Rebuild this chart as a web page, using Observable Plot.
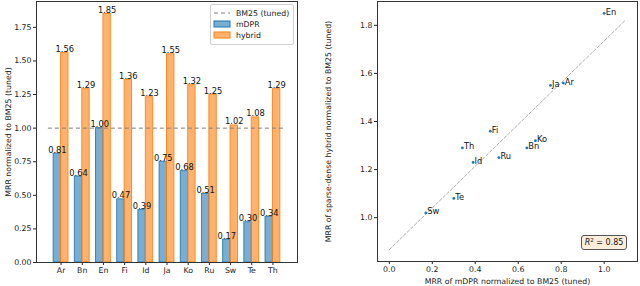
<!DOCTYPE html>
<html>
<head>
<meta charset="utf-8">
<script src="https://cdn.jsdelivr.net/npm/d3@7"></script>
<script src="https://cdn.jsdelivr.net/npm/@observablehq/plot@0.6"></script>
<style>
  html, body { margin: 0; padding: 0; background: white; }
  #wrap { position: relative; width: 640px; height: 286px; display: flex; font-family: "DejaVu Sans", sans-serif; }
  #wrap svg { display: block; }
  .legend { position: absolute; left: 210px; top: 4px; width: 82px; height: 39px; border: 1px solid #d0d0d0; border-radius: 2px; background: rgba(255,255,255,0.85); }
  .r2 { position: absolute; left: 581px; top: 235px; width: 44px; height: 13px; border: 1px solid #555; border-radius: 3px; background: #fdeedb; font-size: 8px; line-height: 13px; text-align: center; color: #111; white-space: nowrap; }
  .r2 sup { font-size: 5.5px; line-height: 0; vertical-align: 3.5px; }
</style>
</head>
<body>
<div id="wrap"></div>
<script>
// ---- data ----
const langs = ["Ar", "Bn", "En", "Fi", "Id", "Ja", "Ko", "Ru", "Sw", "Te", "Th"];
const mdpr = [0.81, 0.64, 1.00, 0.47, 0.39, 0.75, 0.68, 0.51, 0.17, 0.30, 0.34];
const hybrid = [1.56, 1.29, 1.85, 1.36, 1.23, 1.55, 1.32, 1.25, 1.02, 1.08, 1.29];
const seriesNames = ["mDPR", "hybrid"];
const baselineName = "BM25 (tuned)";
const baselineValue = 1.0;
const leftYTicks = [0, 0.25, 0.5, 0.75, 1.0, 1.25, 1.5, 1.75];
const rightXTicks = [0, 0.2, 0.4, 0.6, 0.8, 1.0];
const rightYTicks = [1.0, 1.2, 1.4, 1.6, 1.8];
const r2Value = "0.85";

// ---- styling ----
const colors = ["#1f77b4", "#ff7f0e"];
const barW = 0.35;
const ruleExt = 0.6;
const fontFamily = "DejaVu Sans, sans-serif";
const tickFont = "7.8px";
const annFont = 8.3;

const wrap = document.getElementById("wrap");

// ---- left: grouped bars ----
const rows = langs.flatMap((l, i) => [
  {i, series: seriesNames[0], v: mdpr[i], x1: i - barW, x2: i},
  {i, series: seriesNames[1], v: hybrid[i], x1: i, x2: i + barW}
]);
const xlo = -ruleExt, xhi = langs.length - 1 + ruleExt;
const xm = (xhi - xlo) * 0.05;
const ymaxL = d3.max(rows, d => d.v) * 1.05;

const left = Plot.plot({
  width: 320, height: 286,
  marginLeft: 36, marginRight: 23, marginTop: 1, marginBottom: 24,
  style: {fontFamily, fontSize: tickFont, background: "white", color: "#222", overflow: "visible"},
  x: {domain: [xlo - xm, xhi + xm]},
  y: {domain: [0, ymaxL]},
  color: {domain: seriesNames, range: colors},
  marks: [
    Plot.rectY(rows, {x1: "x1", x2: "x2", y: "v", fill: "series", fillOpacity: 0.6, stroke: "series", strokeOpacity: 0.85, strokeWidth: 1}),
    Plot.ruleY([baselineValue], {x1: () => xlo, x2: () => xhi, stroke: "#7f7f7f", strokeDasharray: "4,3", strokeWidth: 1}),
    Plot.text(rows, {x: d => (d.x1 + d.x2) / 2, y: "v", text: d => d.v.toFixed(2), lineAnchor: "bottom", dy: -1, fontSize: annFont, fill: "#111"}),
    Plot.axisX({ticks: d3.range(langs.length), tickFormat: i => langs[i], tickSize: 3, tickPadding: 2, label: null}),
    Plot.axisY({ticks: leftYTicks, tickFormat: d3.format(".2f"), tickSize: 3, tickPadding: 2, label: "MRR normalized to BM25 (tuned)", labelAnchor: "center", labelOffset: 31, labelArrow: "none"}),
    Plot.frame({stroke: "#333"})
  ]
});

// ---- right: scatter ----
const pts = langs.map((l, i) => ({lang: l, x: mdpr[i], y: hybrid[i]}));
const mx = d3.mean(pts, d => d.x), my = d3.mean(pts, d => d.y);
const slope = d3.sum(pts, d => (d.x - mx) * (d.y - my)) / d3.sum(pts, d => (d.x - mx) ** 2);
const icpt = my - slope * mx;
const lineX = [0, 1.1];
const fit = lineX.map(x => ({x, y: icpt + slope * x}));
const yAll = pts.map(d => d.y).concat(fit.map(d => d.y));
const ylo = d3.min(yAll), yhi = d3.max(yAll), ym = (yhi - ylo) * 0.05;
const xr = (lineX[1] - lineX[0]) * 0.05;

const right = Plot.plot({
  width: 320, height: 286,
  marginLeft: 57, marginRight: 3, marginTop: 1, marginBottom: 25,
  style: {fontFamily, fontSize: tickFont, background: "white", color: "#222", overflow: "visible"},
  x: {domain: [lineX[0] - xr, lineX[1] + xr]},
  y: {domain: [ylo - ym, yhi + ym]},
  marks: [
    Plot.line(fit, {x: "x", y: "y", stroke: "#b0b0b0", strokeDasharray: "3,2", strokeWidth: 1}),
    Plot.dot(pts, {x: "x", y: "y", r: 1.4, fill: colors[0], stroke: "none"}),
    Plot.text(pts, {x: "x", y: "y", text: "lang", textAnchor: "start", lineAnchor: "bottom", dx: 1.5, dy: 1.5, fontSize: annFont, fill: "#111"}),
    Plot.axisX({ticks: rightXTicks, tickFormat: d3.format(".1f"), tickSize: 3, tickPadding: 2, label: "MRR of mDPR normalized to BM25 (tuned)", labelAnchor: "center", labelOffset: 22, labelArrow: "none"}),
    Plot.axisY({ticks: rightYTicks, tickFormat: d3.format(".1f"), tickSize: 3, tickPadding: 2, label: "MRR of sparse-dense hybrid normalized to BM25 (tuned)", labelAnchor: "center", labelOffset: 52, labelArrow: "none"}),
    Plot.frame({stroke: "#333"})
  ]
});

wrap.appendChild(left);
wrap.appendChild(right);

// ---- legend ----
const leg = document.createElement("div");
leg.className = "legend";
leg.innerHTML = `<svg width="82" height="39" style="font-family:${fontFamily};font-size:7.8px">
  <line x1="3" x2="19" y1="8" y2="8" stroke="#7f7f7f" stroke-dasharray="4,3"/>
  <text x="25" y="8" dy="0.35em" fill="#222">${baselineName}</text>
  <rect x="3" y="16" width="16" height="6" fill="${colors[0]}" fill-opacity="0.6" stroke="${colors[0]}"/>
  <text x="25" y="19" dy="0.35em" fill="#222">${seriesNames[0]}</text>
  <rect x="3" y="27" width="16" height="6" fill="${colors[1]}" fill-opacity="0.6" stroke="${colors[1]}"/>
  <text x="25" y="30" dy="0.35em" fill="#222">${seriesNames[1]}</text>
</svg>`;
wrap.appendChild(leg);

// ---- R² box ----
const r2 = document.createElement("div");
r2.className = "r2";
r2.innerHTML = `<i>R</i><sup>2</sup> = ${r2Value}`;
wrap.appendChild(r2);
</script>
</body>
</html>
